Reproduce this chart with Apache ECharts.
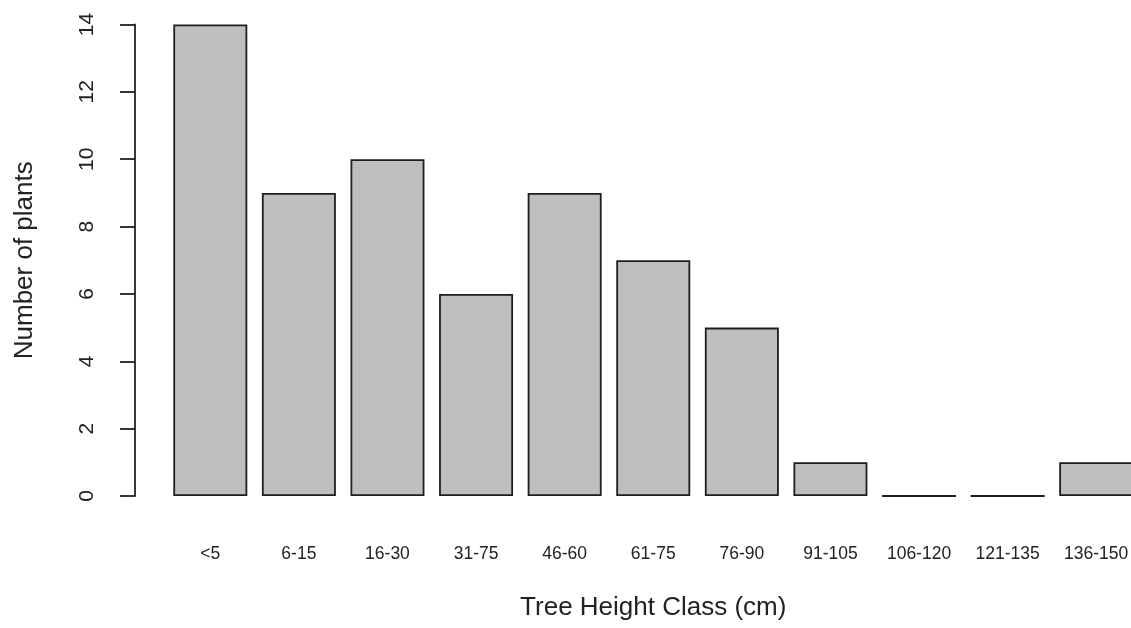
<!DOCTYPE html>
<html>
<head>
<meta charset="utf-8">
<script src="https://cdn.jsdelivr.net/npm/echarts@6/dist/echarts.min.js"></script>
<style>
  html, body { margin: 0; padding: 0; background: #fff; }
  #chart { width: 1131px; height: 628px; }
</style>
</head>
<body>
<div id="chart"></div>
<script>
// tree height classes and counts
const categories = ["<5", "6-15", "16-30", "31-75", "46-60", "61-75", "76-90", "91-105", "106-120", "121-135", "136-150"];
const counts = [14, 9, 10, 6, 9, 7, 5, 1, 0, 0, 1];
const yTicks = { min: 0, max: 14, interval: 2 };

const font = "Liberation Sans, Arial, sans-serif";
let myChart = echarts.init(document.getElementById("chart"));
const option = {
  animation: false,
  grid: {
    left: 166,
    width: 974.5, // last bar runs past the right edge, as in the reference
    top: 24.5,
    bottom: 132,
    outerBoundsMode: "none",
    containLabel: false
  },
  xAxis: {
    type: "category",
    data: categories,
    name: "Tree Height Class (cm)",
    nameLocation: "middle",
    nameGap: 99,
    nameTextStyle: { fontFamily: font, fontSize: 26, color: "#222" },
    axisLine: { show: false },
    axisTick: { show: false },
    axisLabel: {
      margin: 49,
      fontFamily: font,
      fontSize: 17.5,
      color: "#222",
      interval: 0
    }
  },
  yAxis: {
    type: "value",
    min: yTicks.min,
    max: yTicks.max,
    interval: yTicks.interval,
    offset: 31,
    name: "Number of plants",
    nameLocation: "middle",
    nameGap: 97,
    nameTextStyle: { fontFamily: font, fontSize: 26, color: "#222" },
    axisLine: { show: true, lineStyle: { color: "#222", width: 1.8 } },
    axisTick: { show: true, length: 15, lineStyle: { color: "#222", width: 1.8 } },
    splitLine: { show: false },
    axisLabel: {
      rotate: 90,
      margin: 37,
      fontFamily: font,
      fontSize: 21,
      color: "#222"
    }
  },
  series: [
    {
      type: "bar",
      data: counts,
      barCategoryGap: "16.5%",
      itemStyle: {
        color: "#bebebe",
        borderColor: "#1e1e1e",
        borderWidth: 1.8
      }
    }
  ]
};
myChart.setOption(option);
</script>
</body>
</html>
